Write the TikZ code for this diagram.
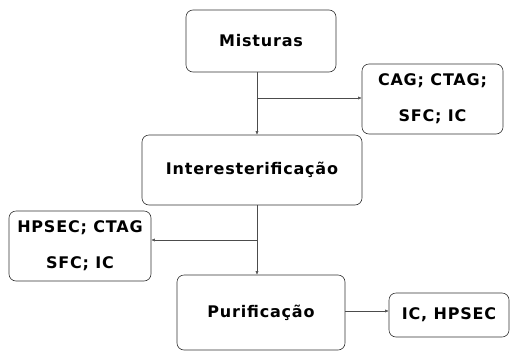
\documentclass[tikz,border=0pt]{standalone}
\usepackage{fontspec}
\setmainfont[LetterSpace=5]{DejaVu Sans}
\usetikzlibrary{arrows.meta}
\begin{document}
\begin{tikzpicture}[x=1pt,y=-1pt,
  box/.style={draw=black!80, rounded corners=7pt, line width=0.6pt, inner sep=0pt,
    font=\bfseries\fontsize{16}{19}\selectfont, align=center},
  twoline/.style={font=\bfseries\fontsize{16}{36}\selectfont},
  conn/.style={draw=black!70, line width=0.5pt, -{Latex[length=3.5pt,width=3pt]}}]
\useasboundingbox (0,0) rectangle (510,351);
\node[box, minimum width=150pt, minimum height=62pt] (mis) at (261,41) {Misturas};
\node[box, twoline, minimum width=141pt, minimum height=70pt] (cag) at (432.5,99) {CAG; CTAG;\\SFC; IC};
\node[box, minimum width=220pt, minimum height=70pt] (int) at (252,170) {Interesterificação};
\node[box, twoline, minimum width=142pt, minimum height=70pt] (hp) at (80,246) {HPSEC; CTAG\\SFC; IC};
\node[box, minimum width=168pt, minimum height=75pt] (pur) at (261,312.5) {Purificação};
\node[box, minimum width=120pt, minimum height=44pt] (ic) at (449,315) {IC, HPSEC};
\coordinate (j1) at (257,98);
\coordinate (j2) at (257,240);
\coordinate (j3) at (345,311);
\draw[conn] (j1 |- mis.south) -- (j1 |- int.north);
\draw[conn] (j1) -- (j1 -| cag.west);
\draw[conn] (j2 |- int.south) -- (j2 |- pur.north);
\draw[conn] (j2) -- (j2 -| hp.east);
\draw[conn] (j3 -| pur.east) -- (j3 -| ic.west);
\end{tikzpicture}
\end{document}
